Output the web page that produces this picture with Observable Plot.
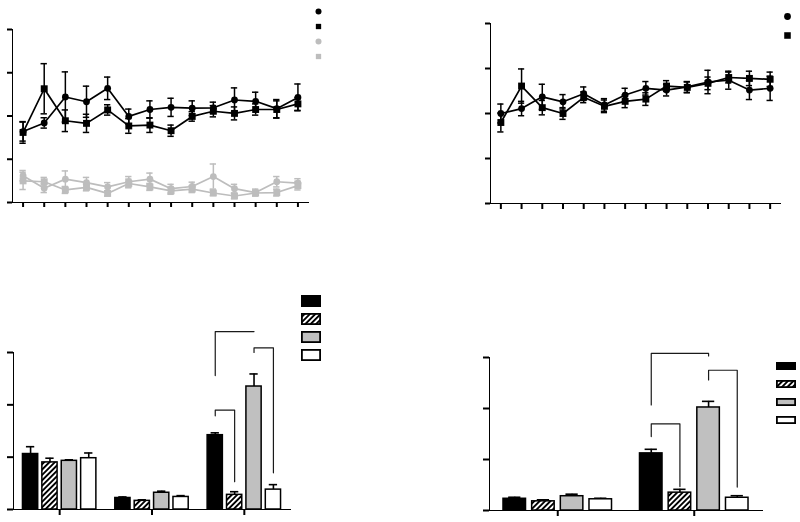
<!DOCTYPE html>
<html>
<head>
<meta charset="utf-8">
<script src="https://cdn.jsdelivr.net/npm/d3@7"></script>
<script src="https://cdn.jsdelivr.net/npm/@observablehq/plot@0.6"></script>
<style>
  body { margin: 0; background: #fff; }
  #wrap { position: relative; width: 800px; height: 522px; overflow: hidden; font-family: "Liberation Sans", Arial, sans-serif; background: #fff; }
  #wrap .panel { position: absolute; }
  #wrap .panel svg { display: block; overflow: visible; background: transparent; max-width: none !important; }
  #wrap [aria-label^="x-axis"] line, #wrap [aria-label^="x-axis"] path,
  #wrap [aria-label^="y-axis"] line, #wrap [aria-label^="y-axis"] path { stroke-width: 2px; stroke: #000; }
</style>
</head>
<body>
<svg width="0" height="0" style="position:absolute">
  <defs>
    <pattern id="hatch" patternUnits="userSpaceOnUse" width="3.8" height="3.8" patternTransform="rotate(45)">
      <rect width="3.8" height="3.8" fill="#fff"></rect>
      <rect width="1.9" height="3.8" fill="#000"></rect>
    </pattern>
  </defs>
</svg>
<div id="wrap"></div>
<script>
// ---------- data ----------
const timepoints = [1, 2, 3, 4, 5, 6, 7, 8, 9, 10, 11, 12, 13, 14];
const yTicksLines = [0, 1, 2, 3, 4];

// Panel A (top left)
const aBlackCircle    = [1.64, 1.84, 2.44, 2.33, 2.64, 1.99, 2.15, 2.20, 2.18, 2.19, 2.37, 2.34, 2.17, 2.43];
const aBlackCircleErr = [0.22, 0.12, 0.58, 0.36, 0.26, 0.17, 0.20, 0.21, 0.17, 0.13, 0.28, 0.21, 0.21, 0.31];
const aBlackSquare    = [1.62, 2.63, 1.89, 1.83, 2.14, 1.77, 1.79, 1.66, 1.99, 2.11, 2.06, 2.15, 2.15, 2.28];
const aBlackSquareErr = [0.25, 0.58, 0.25, 0.21, 0.12, 0.17, 0.17, 0.13, 0.11, 0.13, 0.15, 0.13, 0.20, 0.15];
const aGrayCircle     = [0.62, 0.33, 0.54, 0.46, 0.36, 0.48, 0.54, 0.32, 0.37, 0.60, 0.32, 0.23, 0.48, 0.45];
const aGrayCircleErr  = [0.12, 0.10, 0.19, 0.12, 0.10, 0.12, 0.14, 0.10, 0.10, 0.29, 0.10, 0.08, 0.12, 0.10];
const aGraySquare     = [0.50, 0.48, 0.29, 0.35, 0.21, 0.44, 0.36, 0.27, 0.31, 0.22, 0.15, 0.22, 0.23, 0.39];
const aGraySquareErr  = [0.20, 0.10, 0.08, 0.08, 0.06, 0.10, 0.08, 0.08, 0.08, 0.06, 0.06, 0.06, 0.08, 0.10];

// Panel B (top right)
const bCircle    = [2.00, 2.11, 2.37, 2.26, 2.44, 2.19, 2.41, 2.56, 2.52, 2.59, 2.70, 2.74, 2.52, 2.56];
const bCircleErr = [0.21, 0.16, 0.28, 0.16, 0.15, 0.14, 0.15, 0.15, 0.13, 0.12, 0.26, 0.20, 0.21, 0.27];
const bSquare    = [1.80, 2.61, 2.13, 2.00, 2.36, 2.16, 2.27, 2.32, 2.61, 2.58, 2.67, 2.80, 2.78, 2.76];
const bSquareErr = [0.21, 0.38, 0.16, 0.13, 0.12, 0.14, 0.14, 0.14, 0.12, 0.12, 0.14, 0.12, 0.16, 0.16];

// Bar panels
const barSeries = ["black", "hatched", "gray", "white"];
const yTicksBars = [0, 1, 2, 3];

// Panel C (bottom left): 3 groups
const cGroups = [1, 2, 3];
const cBlack      = [1.06, 0.22, 1.42];  const cBlackErr   = [0.14, 0.02, 0.045];
const cHatched    = [0.90, 0.165, 0.28]; const cHatchedErr = [0.08, 0.02, 0.06];
const cGray       = [0.93, 0.32, 2.35];  const cGrayErr    = [0.02, 0.03, 0.24];
const cWhite      = [0.98, 0.24, 0.38];  const cWhiteErr   = [0.10, 0.025, 0.095];
const cBrackets = [
  {g: 3, from: 0, to: 1, y1: 1.79, top: 1.90, y2: 0.53},
  {g: 3, from: 0, to: 2, y1: 2.56, top: 3.40, y2: 3.40},
  {g: 3, from: 2, to: 3, y1: 3.00, top: 3.09, y2: 0.70}
];

// Panel D (bottom right): 2 groups
const dGroups = [1, 2];
const dBlack      = [0.23, 1.12]; const dBlackErr   = [0.03, 0.08];
const dHatched    = [0.18, 0.35]; const dHatchedErr = [0.03, 0.065];
const dGray       = [0.28, 2.02]; const dGrayErr    = [0.04, 0.12];
const dWhite      = [0.22, 0.25]; const dWhiteErr   = [0.02, 0.04];
const dBrackets = [
  {g: 2, from: 0, to: 1, y1: 1.45, top: 1.70, y2: 0.47},
  {g: 2, from: 0, to: 2, y1: 2.07, top: 3.08, y2: 3.03},
  {g: 2, from: 2, to: 3, y1: 2.56, top: 2.75, y2: 0.46}
];

// ---------- styles ----------
const BLACK = "#000";
const GRAY = "#bdbdbd";
const barFill = {black: "#000", hatched: "url(#hatch)", gray: "#c0c0c0", white: "#fff"};

const wrap = document.getElementById("wrap");
function place(node, left, top) {
  const d = document.createElement("div");
  d.className = "panel";
  d.style.left = left + "px";
  d.style.top = top + "px";
  d.appendChild(node);
  wrap.appendChild(d);
}
const blank = () => "";

// ---------- line panels ----------
function lineMarks(series, capHalf) {
  const marks = [];
  for (const s of series) {
    const rows = timepoints.map((t, i) => ({t, v: s.values[i], e: s.errs[i]}));
    marks.push(
      Plot.ruleX(rows, {x: "t", y1: d => d.v - d.e, y2: d => d.v + d.e, stroke: s.color, strokeWidth: 1.5}),
      Plot.ruleY(rows, {y: d => d.v + d.e, x1: d => d.t - capHalf, x2: d => d.t + capHalf, stroke: s.color, strokeWidth: 1.5}),
      Plot.ruleY(rows, {y: d => d.v - d.e, x1: d => d.t - capHalf, x2: d => d.t + capHalf, stroke: s.color, strokeWidth: 1.5}),
      Plot.line(rows, {x: "t", y: "v", stroke: s.color, strokeWidth: 1.7}),
      Plot.dot(rows, {x: "t", y: "v", symbol: s.symbol, fill: s.color, r: s.symbol === "square" ? 3.9 : 3.4})
    );
  }
  return marks;
}

const seriesA = [
  {values: aGraySquare, errs: aGraySquareErr, color: GRAY, symbol: "square"},
  {values: aGrayCircle, errs: aGrayCircleErr, color: GRAY, symbol: "circle"},
  {values: aBlackSquare, errs: aBlackSquareErr, color: BLACK, symbol: "square"},
  {values: aBlackCircle, errs: aBlackCircleErr, color: BLACK, symbol: "circle"}
];
place(Plot.plot({
  width: 330, height: 215,
  marginLeft: 12, marginRight: 22, marginTop: 29, marginBottom: 13,
  x: {domain: [0.5, 14.5], ticks: timepoints, tickSize: 5, tickFormat: blank, line: true, label: null},
  y: {domain: [0, 4], ticks: yTicksLines, tickSize: 5, tickFormat: blank, line: true, label: null},
  marks: lineMarks(seriesA, 0.15)
}), 0, 0);

const seriesB = [
  {values: bSquare, errs: bSquareErr, color: BLACK, symbol: "square"},
  {values: bCircle, errs: bCircleErr, color: BLACK, symbol: "circle"}
];
place(Plot.plot({
  width: 320, height: 215,
  marginLeft: 20, marginRight: 10, marginTop: 23, marginBottom: 12,
  x: {domain: [0.5, 14.5], ticks: timepoints, tickSize: 6, tickFormat: blank, line: true, label: null},
  y: {domain: [0, 4], ticks: yTicksLines, tickSize: 5, tickFormat: blank, line: true, label: null},
  marks: lineMarks(seriesB, 0.15)
}), 470, 0);

// legends for line panels
const legendA = [
  {k: "a1", color: BLACK, symbol: "circle"},
  {k: "a2", color: BLACK, symbol: "square"},
  {k: "a3", color: GRAY, symbol: "circle"},
  {k: "a4", color: GRAY, symbol: "square"}
];
place(Plot.plot({
  width: 20, height: 66, margin: 0,
  x: {axis: null},
  y: {type: "point", domain: legendA.map(d => d.k), range: [10, 57.7], padding: 0, axis: null},
  marks: legendA.map(d => Plot.dot([d], {y: "k", frameAnchor: "middle", symbol: d.symbol, fill: d.color, r: d.symbol === "square" ? 3.0 : 3.0}))
}), 308, 0);

const legendB = [
  {k: "b1", color: BLACK, symbol: "circle"},
  {k: "b2", color: BLACK, symbol: "square"}
];
place(Plot.plot({
  width: 20, height: 45, margin: 0,
  x: {axis: null},
  y: {type: "point", domain: legendB.map(d => d.k), range: [15.7, 35], padding: 0, axis: null},
  marks: legendB.map(d => Plot.dot([d], {y: "k", frameAnchor: "middle", symbol: d.symbol, fill: d.color, r: d.symbol === "square" ? 3.7 : 3.4}))
}), 777, 0);

// ---------- bar panels ----------
const barStep = 0.21, barHalf = 0.0825, capHalf = 0.045;
const off = s => (s - 1.5) * barStep;

function barMarks(groups, valueSets, errSets, brackets) {
  const marks = [];
  barSeries.forEach((name, s) => {
    const rows = groups.map((g, i) => ({x: g + off(s), v: valueSets[s][i], e: errSets[s][i]}));
    marks.push(
      Plot.ruleX(rows, {x: "x", y1: "v", y2: d => d.v + d.e, stroke: "#000", strokeWidth: 1.6}),
      Plot.ruleY(rows, {y: d => d.v + d.e, x1: d => d.x - capHalf, x2: d => d.x + capHalf, stroke: "#000", strokeWidth: 1.6}),
      Plot.rectY(rows, {x1: d => d.x - barHalf, x2: d => d.x + barHalf, y: "v", fill: barFill[name], stroke: "#000", strokeWidth: 1.5})
    );
  });
  const pts = [];
  brackets.forEach((b, i) => {
    pts.push({id: i, x: b.g + off(b.from), y: b.y1});
    pts.push({id: i, x: b.g + off(b.from), y: b.top});
    pts.push({id: i, x: b.g + off(b.to), y: b.top});
    pts.push({id: i, x: b.g + off(b.to), y: b.y2});
  });
  marks.push(Plot.line(pts, {x: "x", y: "y", z: "id", stroke: "#1a1a1a", strokeWidth: 1.2}));
  return marks;
}

place(Plot.plot({
  width: 300, height: 232,
  marginLeft: 13, marginRight: 10, marginTop: 62, marginBottom: 13,
  x: {domain: [0.5, 3.5], ticks: cGroups, tickSize: 6, tickFormat: blank, line: true, label: null},
  y: {domain: [0, 3], ticks: yTicksBars, tickSize: 6, tickFormat: blank, line: true, label: null},
  marks: barMarks(cGroups, [cBlack, cHatched, cGray, cWhite], [cBlackErr, cHatchedErr, cGrayErr, cWhiteErr], cBrackets)
}), 0, 290);

place(Plot.plot({
  width: 300, height: 232,
  marginLeft: 19, marginRight: 8, marginTop: 67, marginBottom: 12,
  x: {domain: [0.5, 2.5], ticks: dGroups, tickSize: 6, tickFormat: blank, line: true, label: null},
  y: {domain: [0, 3], ticks: yTicksBars, tickSize: 6, tickFormat: blank, line: true, label: null},
  marks: barMarks(dGroups, [dBlack, dHatched, dGray, dWhite], [dBlackErr, dHatchedErr, dGrayErr, dWhiteErr], dBrackets)
}), 470, 290);

// legends for bar panels
function barLegend(yRange, pad, xRange) {
  return Plot.plot({
    width: 22, height: 80, margin: 0,
    x: {type: "band", domain: ["k"], range: xRange, padding: 0, axis: null},
    y: {type: "band", domain: barSeries, range: yRange, paddingInner: pad, paddingOuter: 0, axis: null},
    marks: barSeries.map(name => Plot.cell([name], {x: () => "k", y: d => d, fill: barFill[name], stroke: "#000", strokeWidth: 1.8, inset: 0.9}))
  });
}
place(barLegend([9.3, 76.7], 0.35, [0.7, 20.7]), 300, 285);
place(barLegend([6.7, 69], 0.56, [1, 21]), 775, 355);
</script>
</body>
</html>
